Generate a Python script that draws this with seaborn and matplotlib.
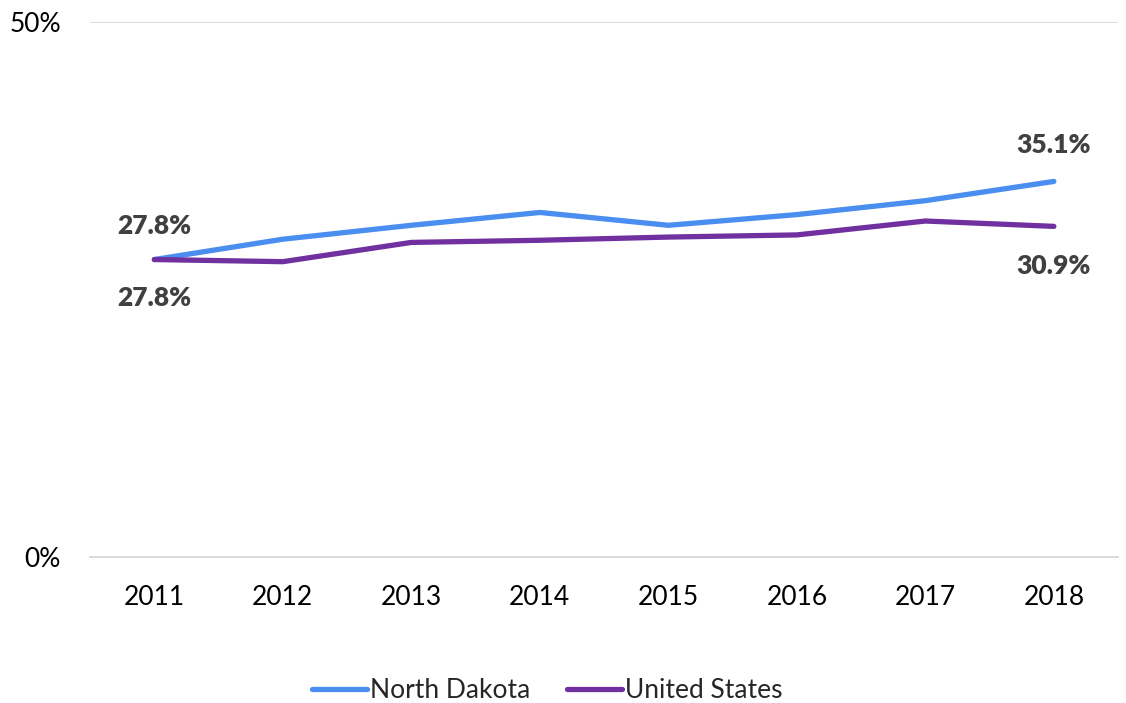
import pandas as pd
import seaborn as sns
import matplotlib.pyplot as plt

years = ["2011", "2012", "2013", "2014", "2015", "2016", "2017", "2018"]
north_dakota = [27.8, 29.7, 31.0, 32.2, 31.0, 32.0, 33.3, 35.1]
united_states = [27.8, 27.6, 29.4, 29.6, 29.9, 30.1, 31.4, 30.9]
series_names = ["North Dakota", "United States"]
colors = ["#4A8EF0", "#7030A0"]

df = pd.DataFrame({
    "year": years * 2,
    "value": north_dakota + united_states,
    "series": [series_names[0]] * len(years) + [series_names[1]] * len(years),
})
df["x"] = df["year"].map({y: i for i, y in enumerate(years)})

sns.set_style("white")
plt.rcParams["font.family"] = ["Lato", "DejaVu Sans"]

fig = plt.figure(figsize=(11.26, 7.03), dpi=100)
ax = fig.add_axes([0.08, 0.2077, 0.913, 0.761])

sns.lineplot(data=df, x="x", y="value", hue="series", palette=colors,
             linewidth=3.8, ax=ax, legend=True, solid_capstyle="round")

ax.set_xlim(-0.5, len(years) - 0.5)
ax.set_ylim(0, 50)
ax.set_yticks([0, 50])
ax.set_yticklabels(["0%", "50%"], fontsize=19, color="#000000")
ax.set_xticks(range(len(years)))
ax.set_xticklabels(years, fontsize=19, color="#000000")
ax.tick_params(axis="x", length=0, pad=20)
ax.tick_params(axis="y", length=0, pad=21)
ax.grid(axis="y", color="#D9D9D9", linewidth=1.3)
ax.set_axisbelow(True)
for s in ax.spines.values():
    s.set_visible(False)
ax.spines["bottom"].set_visible(True)
ax.spines["bottom"].set_color("#D9D9D9")
ax.spines["bottom"].set_linewidth(1.3)
ax.set_xlabel("")
ax.set_ylabel("")

lab = dict(fontsize=19, fontweight="heavy", color="#404040", ha="center", va="center")
last = len(years) - 1
ax.annotate(f"{north_dakota[0]:.1f}%", (0, north_dakota[0]), xytext=(0, 34), textcoords="offset pixels", **lab)
ax.annotate(f"{united_states[0]:.1f}%", (0, united_states[0]), xytext=(0, -38), textcoords="offset pixels", **lab)
ax.annotate(f"{north_dakota[last]:.1f}%", (last, north_dakota[last]), xytext=(0, 36), textcoords="offset pixels", **lab)
ax.annotate(f"{united_states[last]:.1f}%", (last, united_states[last]), xytext=(0, -40), textcoords="offset pixels", **lab)

handles, labels = ax.get_legend_handles_labels()
ax.get_legend().remove()
fig.legend(handles, labels, loc="center", bbox_to_anchor=(0.486, 0.018), ncol=2,
           frameon=False, fontsize=19, handlelength=2.1, handletextpad=0.1,
           columnspacing=1.4, borderpad=0.2)

fig.savefig("out.png", dpi=100)
